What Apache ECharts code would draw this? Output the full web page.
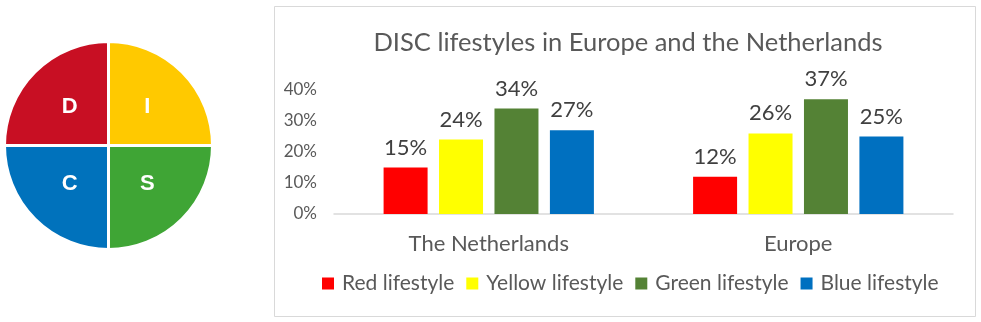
<!DOCTYPE html>
<html>
<head>
<meta charset="utf-8">
<script src="https://cdn.jsdelivr.net/npm/echarts@6/dist/echarts.min.js"></script>
<style>
html,body{margin:0;padding:0;background:#fff;}
#chart{width:981px;height:322px;}
</style>
</head>
<body>
<div id="chart"></div>
<script>
const categories = ['The Netherlands', 'Europe'];
const seriesNames = ['Red lifestyle', 'Yellow lifestyle', 'Green lifestyle', 'Blue lifestyle'];
const redValues = [15, 12];
const yellowValues = [24, 26];
const greenValues = [34, 37];
const blueValues = [27, 25];
const yTicks = [0, 10, 20, 30, 40];
const discLetters = ['I', 'S', 'C', 'D'];
const discValues = [1, 1, 1, 1];

const barColors = ['#FF0000', '#FFFF00', '#548235', '#0070C0'];
const discColors = ['#FFC900', '#3FA535', '#0072BC', '#C80F23'];
const FONT = 'Lato';

const chart = echarts.init(document.getElementById('chart'), null, {renderer: 'canvas'});

const valueSets = [redValues, yellowValues, greenValues, blueValues];
const barSeries = valueSets.map((vals, i) => ({
  name: seriesNames[i],
  type: 'bar',
  data: vals,
  barWidth: 44,
  barGap: '26%',
  itemStyle: {color: barColors[i]},
  label: {
    show: true, position: 'top', distance: 9,
    formatter: p => p.value + '%',
    color: '#404040', fontSize: 22, fontFamily: FONT
  }
}));

const option = {
  backgroundColor: '#fff',
  animation: false,
  graphic: [{
    type: 'rect', shape: {x: 274.5, y: 6.5, width: 701, height: 310},
    style: {fill: 'none', stroke: '#d9d9d9', lineWidth: 1}, z: -1
  }],
  title: {
    text: 'DISC lifestyles in Europe and the Netherlands',
    left: 623, top: 25, textAlign: 'center',
    textStyle: {color: '#595959', fontSize: 25.5, fontWeight: 'normal', fontFamily: FONT}
  },
  legend: {
    data: seriesNames,
    left: 317, top: 268,
    itemWidth: 12, itemHeight: 12, itemGap: 12,
    icon: 'rect',
    textStyle: {color: '#595959', fontSize: 21, fontFamily: FONT, padding: [0, 0, 0, 3]}
  },
  grid: {left: 334, right: 28, top: 90, bottom: 108},
  xAxis: {
    type: 'category', data: categories,
    axisLine: {lineStyle: {color: '#d9d9d9', width: 1.5}},
    axisTick: {show: false},
    axisLabel: {color: '#595959', fontSize: 22, fontFamily: FONT, margin: 19}
  },
  yAxis: {
    type: 'value', min: 0, max: 40, interval: 10,
    axisLine: {show: false}, axisTick: {show: false},
    splitLine: {show: false},
    axisLabel: {color: '#595959', fontSize: 17, fontFamily: FONT, margin: 17,
      formatter: v => (yTicks.indexOf(v) >= 0 ? v + '%' : '')}
  },
  series: barSeries.concat([{
    type: 'pie',
    center: [108.5, 145.5],
    radius: 104,
    startAngle: 90,
    clockwise: true,
    silent: true,
    legendHoverLink: false,
    data: discLetters.map((l, i) => ({name: l, value: discValues[i], itemStyle: {color: discColors[i]}})),
    itemStyle: {borderColor: '#fff', borderWidth: 3},
    label: {show: true, position: 'inside', formatter: '{b}', color: '#fff',
      fontSize: 22, fontWeight: 'bold', fontFamily: 'Liberation Sans'},
    labelLine: {show: false}
  }])
};
chart.setOption(option);
</script>
</body>
</html>
